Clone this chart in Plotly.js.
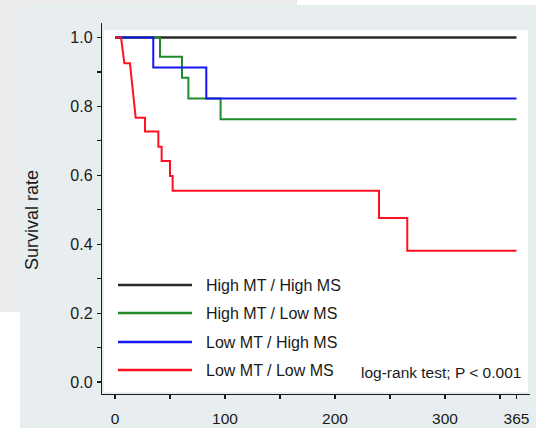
<!DOCTYPE html>
<html>
<head>
<meta charset="utf-8">
<script src="https://cdn.plot.ly/plotly-3.0.1.min.js"></script>
<style>html,body{margin:0;padding:0;background:#fff;}#chart{width:536px;height:428px;}</style>
</head>
<body>
<div id="chart"></div>
<script>
// ---- data ----
const seriesNames = ["High MT / High MS", "High MT / Low MS", "Low MT / High MS", "Low MT / Low MS"];
const seriesColors = ["#2a2a2a", "#228a2a", "#1414f5", "#ff1020"];

const hhDays = [0, 365];
const hhSurv = [1, 1];

const hlDays = [0, 40.9, 40.9, 60.9, 60.9, 66.7, 66.7, 96, 96, 365];
const hlSurv = [1, 1, 0.944, 0.944, 0.883, 0.883, 0.823, 0.823, 0.763, 0.763];

const lhDays = [0, 34.8, 34.8, 83, 83, 365];
const lhSurv = [1, 1, 0.913, 0.913, 0.823, 0.823];

const llDays = [0, 5.5, 8.5, 13.6, 18.8, 27.3, 27.3, 39.4, 39.4, 42.4, 42.4, 50, 50, 52.4, 52.4, 240, 240, 265.7, 265.7, 365];
const llSurv = [1, 1, 0.925, 0.925, 0.767, 0.767, 0.727, 0.727, 0.683, 0.683, 0.6415, 0.6415, 0.598, 0.598, 0.555, 0.555, 0.476, 0.476, 0.381, 0.381];

const xTickVals = [0, 50, 100, 150, 200, 250, 300, 350, 365];
const xTickText = ["0", "", "100", "", "200", "", "300", "", "365"];
const yTickVals = [0, 0.1, 0.2, 0.3, 0.4, 0.5, 0.6, 0.7, 0.8, 0.9, 1.0];
const yTickText = ["0.0", "", "0.2", "", "0.4", "", "0.6", "", "0.8", "", "1.0"];

const yTitle = "Survival rate";
const testNote = "log-rank test; P < 0.001";

// ---- layout helpers ----
const W = 536, H = 428;
const M = {l: 102, r: 6, t: 23, b: 34};
const PW = W - M.l - M.r, PH = H - M.t - M.b;
const px = x => (x - M.l) / PW;          // pixel -> paper x
const py = y => (H - M.b - y) / PH;      // pixel -> paper y
const FONT = "Liberation Sans, Arial, Helvetica, sans-serif";
const INK = "#1a1a1a";

const allDays = [hhDays, hlDays, lhDays, llDays];
const allSurv = [hhSurv, hlSurv, lhSurv, llSurv];
const widths = [2.4, 2, 2, 2];

const traces = allDays.map((d, i) => ({
  x: d, y: allSurv[i], type: "scatter", mode: "lines",
  name: seriesNames[i], showlegend: false,
  line: {color: seriesColors[i], width: widths[i], shape: "linear"},
  hoverinfo: "skip"
}));

const shapes = [
  // scanned-page backgrounds
  {type: "rect", xref: "paper", yref: "paper", x0: px(0), x1: px(297), y0: py(5), y1: py(0),
   fillcolor: "#ebebeb", line: {width: 0}, layer: "below"},
  {type: "rect", xref: "paper", yref: "paper", x0: px(0), x1: px(20), y0: py(312), y1: py(0),
   fillcolor: "#ebebeb", line: {width: 0}, layer: "below"},
  {type: "rect", xref: "paper", yref: "paper", x0: px(20), x1: px(536), y0: py(428), y1: py(5),
   fillcolor: "#e8eef0", line: {width: 0}, layer: "below"},
  // white plotting panel
  {type: "rect", xref: "paper", yref: "paper", x0: px(104), x1: px(528), y0: py(392), y1: py(30),
   fillcolor: "#ffffff", line: {width: 0}, layer: "below"}
];
const annotations = [
  {xref: "paper", yref: "paper", x: px(32), y: py(220), text: yTitle, textangle: -90,
   showarrow: false, xanchor: "center", yanchor: "middle", font: {family: FONT, size: 18, color: INK}},
  {xref: "paper", yref: "paper", x: px(523), y: py(372), text: testNote,
   showarrow: false, xanchor: "right", yanchor: "middle", font: {family: FONT, size: 15.5, color: INK}}
];
const legendY = [285, 313, 342, 370];
seriesNames.forEach((n, i) => {
  shapes.push({type: "line", xref: "paper", yref: "paper", x0: px(118), x1: px(192),
    y0: py(legendY[i]), y1: py(legendY[i]), line: {color: seriesColors[i], width: 2.5}});
  annotations.push({xref: "paper", yref: "paper", x: px(204), y: py(legendY[i]), text: n,
    showarrow: false, xanchor: "left", yanchor: "middle", font: {family: FONT, size: 16, color: INK}});
});

// axis ranges chosen so that 0..365 days and 0..1 land where the reference draws them
const xr0 = -13 / 1.1, xr1 = xr0 + PW / 1.1;
const yr1 = 1 + 14.5 / 344.5, yr0 = yr1 - PH / 344.5;

const layout = {
  width: W, height: H,
  margin: M,
  paper_bgcolor: "#ffffff", plot_bgcolor: "rgba(0,0,0,0)",
  font: {family: FONT, size: 15, color: INK},
  showlegend: false,
  xaxis: {range: [xr0, xr1], tickmode: "array", tickvals: xTickVals, ticktext: xTickText,
    showgrid: false, zeroline: false, showline: true, linecolor: INK, linewidth: 1.2,
    ticks: "outside", ticklen: 4, tickwidth: 1.2, tickcolor: INK, ticklabelstandoff: 6,
    tickfont: {family: FONT, size: 15.5, color: INK}, fixedrange: true},
  yaxis: {range: [yr0, yr1], tickmode: "array", tickvals: yTickVals, ticktext: yTickText,
    showgrid: false, zeroline: false, showline: true, linecolor: INK, linewidth: 1.2,
    ticks: "outside", ticklen: 4, tickwidth: 1.2, tickcolor: INK, ticklabelstandoff: 1,
    tickfont: {family: FONT, size: 16, color: INK}, fixedrange: true},
  shapes: shapes,
  annotations: annotations
};

Plotly.newPlot("chart", traces, layout, {displayModeBar: false, staticPlot: true});
</script>
</body>
</html>
